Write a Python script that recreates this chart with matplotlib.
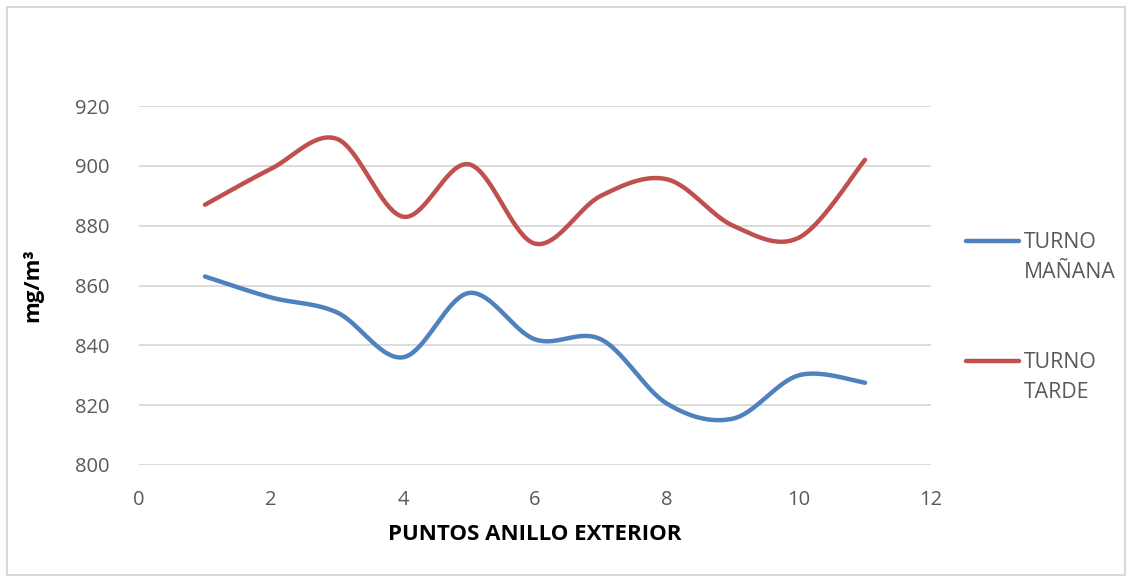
import numpy as np
import matplotlib
matplotlib.use("Agg")
import matplotlib.pyplot as plt
from matplotlib.lines import Line2D
from matplotlib.patches import Rectangle

# Measurement points along the outer ring
puntos = [1, 2, 3, 4, 5, 6, 7, 8, 9, 10, 11]
turno_manana = [863, 856, 851, 836, 857.5, 842, 842, 820.5, 815.5, 830, 827.5]
turno_tarde = [887, 899, 909, 883, 900.5, 874, 890, 895.5, 880, 876, 902]

x_ticks = [0, 2, 4, 6, 8, 10, 12]
y_ticks = [800, 820, 840, 860, 880, 900, 920]

BLUE = "#4F81BD"
RED = "#C0504D"
GRID = "#D9D9D9"
TEXT = "#595959"
FONT = "Open Sans"

plt.rcParams["font.family"] = [FONT, "DejaVu Sans"]


def smooth_curve(xs, ys, steps=40):
    """Catmull-Rom curve through the points, as cubic Bezier segments."""
    pts = np.column_stack([xs, ys]).astype(float)
    ext = np.vstack([pts[0], pts, pts[-1]])
    t = np.linspace(0, 1, steps)[:, None]
    out = []
    for i in range(len(pts) - 1):
        p0, p1, p2, p3 = ext[i], ext[i + 1], ext[i + 2], ext[i + 3]
        c1 = p1 + (p2 - p0) / 6.0
        c2 = p2 - (p3 - p1) / 6.0
        seg = ((1 - t) ** 3) * p1 + 3 * ((1 - t) ** 2) * t * c1 \
            + 3 * (1 - t) * t ** 2 * c2 + t ** 3 * p2
        out.append(seg if i == 0 else seg[1:])
    curve = np.vstack(out)
    return curve[:, 0], curve[:, 1]


W, H = 1129, 579
fig = plt.figure(figsize=(W / 100, H / 100), dpi=100)

# chart frame
fig.patches.append(Rectangle((7 / W, 4 / H), 1118 / W, 568 / H, transform=fig.transFigure,
                             fill=False, edgecolor="#D9D9D9", linewidth=1.5))

ax = fig.add_axes([139 / W, (H - 465) / H, 792 / W, 359 / H])
ax.set_xlim(0, 12)
ax.set_ylim(800, 920)
ax.set_xticks(x_ticks)
ax.set_yticks(y_ticks)
ax.grid(axis="y", color=GRID, linewidth=1.3)
ax.set_axisbelow(True)
for s in ax.spines.values():
    s.set_visible(False)
ax.tick_params(length=0, labelsize=14.5, colors=TEXT)
ax.tick_params(axis="y", pad=21)
ax.tick_params(axis="x", pad=18)

xm, ym = smooth_curve(puntos, turno_manana)
xt, yt = smooth_curve(puntos, turno_tarde)
ax.plot(xm, ym, color=BLUE, linewidth=3.2, solid_capstyle="round")
ax.plot(xt, yt, color=RED, linewidth=3.2, solid_capstyle="round")

ax.set_xlabel("PUNTOS ANILLO EXTERIOR", fontsize=16, fontweight="bold", color="black")
ax.set_ylabel("mg/m³", fontsize=16, fontweight="bold", color="black")
ax.xaxis.set_label_coords(0.5, (465 - 524) / 359)
ax.yaxis.set_label_coords((43 - 139) / 792, 0.5)

# legend entries
for y_px, color, label in [(241, BLUE, "TURNO\nMAÑANA"), (361, RED, "TURNO\nTARDE")]:
    fy = (H - y_px) / H
    fig.add_artist(Line2D([966 / W, 1019 / W], [fy, fy], transform=fig.transFigure,
                          color=color, linewidth=3.2, solid_capstyle="round"))
    fig.text(1024 / W, (H - y_px + 9) / H, label, fontsize=15.3, color=TEXT,
             va="top", ha="left", linespacing=1.55)

fig.savefig("out.png", dpi=100)
